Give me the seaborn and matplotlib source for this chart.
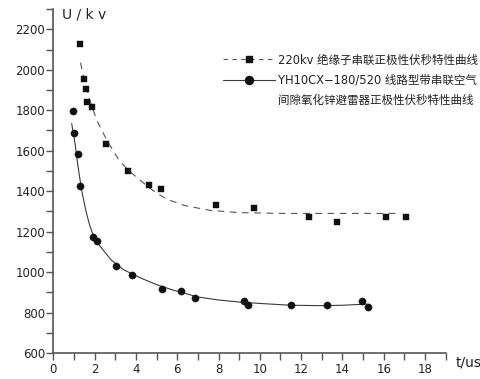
import numpy as np
import pandas as pd
import matplotlib
matplotlib.use("Agg")
import matplotlib.pyplot as plt
import seaborn as sns
from matplotlib.lines import Line2D
from matplotlib.ticker import MultipleLocator

# Measured points: 220kV insulator string (squares)
ins_t = [1.29, 1.49, 1.57, 1.65, 1.87, 2.57, 3.63, 4.63, 5.23, 7.90, 9.73, 12.39, 13.73, 16.11, 17.09]
ins_u = [2127, 1956, 1903, 1839, 1814, 1633, 1500, 1429, 1411, 1331, 1318, 1274, 1249, 1274, 1274]
# Measured points: YH10CX-180/520 arrester (circles)
arr_t = [0.96, 1.02, 1.20, 1.31, 1.92, 2.12, 3.05, 3.79, 5.24, 6.16, 6.84, 9.25, 9.41, 11.50, 13.25, 14.97, 15.24]
arr_u = [1798, 1686, 1584, 1425, 1172, 1154, 1030, 987, 915, 908, 870, 857, 836, 836, 836, 857, 829]

# Fitted curves
ins_fit_t = [1.32, 1.45, 1.6, 1.77, 2.1, 2.6, 3.2, 3.7, 4.2, 4.6, 5.1, 5.5, 6.4, 7.6, 9.0, 11.0, 13.0, 15.0, 16.85]
ins_fit_u = [2035, 1970, 1915, 1850, 1752, 1650, 1550, 1497, 1455, 1420, 1385, 1360, 1328, 1305, 1294, 1290, 1290, 1290, 1290]
arr_fit_t = [0.89, 0.97, 1.05, 1.2, 1.37, 1.5, 1.61, 1.75, 1.93, 2.1, 2.34, 2.8, 3.4, 4.2, 5.0, 5.8, 7.0, 8.0, 9.0, 10.0, 11.5, 13.0, 14.0, 15.2]
arr_fit_u = [1735, 1685, 1637, 1520, 1406, 1340, 1290, 1235, 1183, 1150, 1118, 1060, 1012, 972, 938, 911, 877, 862, 852, 845, 836, 834, 836, 842]

x_ticks = [0, 2, 4, 6, 8, 10, 12, 14, 16, 18]
y_ticks = [600, 800, 1000, 1200, 1400, 1600, 1800, 2000, 2200]

label_ins = "220kv 绝缘子串联正极性伏秒特性曲线"
label_arr1 = "YH10CX−180/520 线路型带串联空气"
label_arr2 = "间隙氧化锌避雷器正极性伏秒特性曲线"

sns.set_style("ticks")
plt.rcParams['font.family'] = ['DejaVu Sans', 'Noto Sans CJK SC']

fig = plt.figure(figsize=(4.81, 3.79), dpi=100)
ax = fig.add_axes([0.1108, 0.0686, 0.8158, 0.9074])

line_col = '#3a3a3a'
mark_col = '#111111'
spine_col = '#555555'

df_ins_fit = pd.DataFrame({'t': ins_fit_t, 'u': ins_fit_u})
df_arr_fit = pd.DataFrame({'t': arr_fit_t, 'u': arr_fit_u})
df_ins = pd.DataFrame({'t': ins_t, 'u': ins_u})
df_arr = pd.DataFrame({'t': arr_t, 'u': arr_u})

sns.lineplot(data=df_ins_fit, x='t', y='u', ax=ax, color='#555555', lw=0.8,
             linestyle=(0, (6, 5)), sort=False, estimator=None)
sns.lineplot(data=df_arr_fit, x='t', y='u', ax=ax, color=line_col, lw=0.8,
             sort=False, estimator=None)
sns.scatterplot(data=df_ins, x='t', y='u', ax=ax, marker='s', s=20, color=mark_col,
                edgecolor=mark_col, linewidth=0.3, zorder=3)
sns.scatterplot(data=df_arr, x='t', y='u', ax=ax, marker='o', s=27, color=mark_col,
                edgecolor=mark_col, linewidth=0.3, zorder=3)

ax.set_xlim(0, 19)
ax.set_ylim(600, 2300)
ax.set_xticks(x_ticks)
ax.set_yticks(y_ticks)
ax.xaxis.set_minor_locator(MultipleLocator(1))
ax.yaxis.set_minor_locator(MultipleLocator(100))
ax.set_xlabel('')
ax.set_ylabel('')
sns.despine(ax=ax)
for sp in ['left', 'bottom']:
    ax.spines[sp].set_color(spine_col)
    ax.spines[sp].set_linewidth(1.2)
ax.tick_params(which='both', direction='out', length=5, width=1, color=spine_col)
ax.tick_params(axis='y', which='both', labelsize=8.5, pad=1, labelcolor='#222222')
ax.tick_params(axis='x', which='both', labelsize=8.5, pad=2, labelcolor='#222222')

fig.text(62 / 481, 1 - 15 / 379, 'U / k v', fontsize=10, color='#222222', va='center', ha='left')
fig.text(456 / 481, 1 - 362 / 379, 't/us', fontsize=10, color='#222222', va='center', ha='left')

handles = [
    Line2D([], [], color='#555555', lw=0.8, linestyle=(0, (4, 4)), marker='s', markersize=4.2,
           markerfacecolor=mark_col, markeredgecolor=mark_col),
    Line2D([], [], color=line_col, lw=0.8, marker='o', markersize=5.8,
           markerfacecolor=mark_col, markeredgecolor=mark_col),
    Line2D([], [], linestyle='none', marker=None),
]
leg = fig.legend(handles, [label_ins, label_arr1, label_arr2],
                 loc='upper left', bbox_to_anchor=(223 / 481, 1 - 53.5 / 379),
                 frameon=False, handlelength=4.5, handletextpad=0.23,
                 labelspacing=0.62, borderpad=0, borderaxespad=0,
                 prop={'family': ['DejaVu Sans', 'Noto Sans CJK SC'], 'size': 8.3})
for t in leg.get_texts():
    t.set_color('#222222')

fig.savefig('out.png', dpi=100)
